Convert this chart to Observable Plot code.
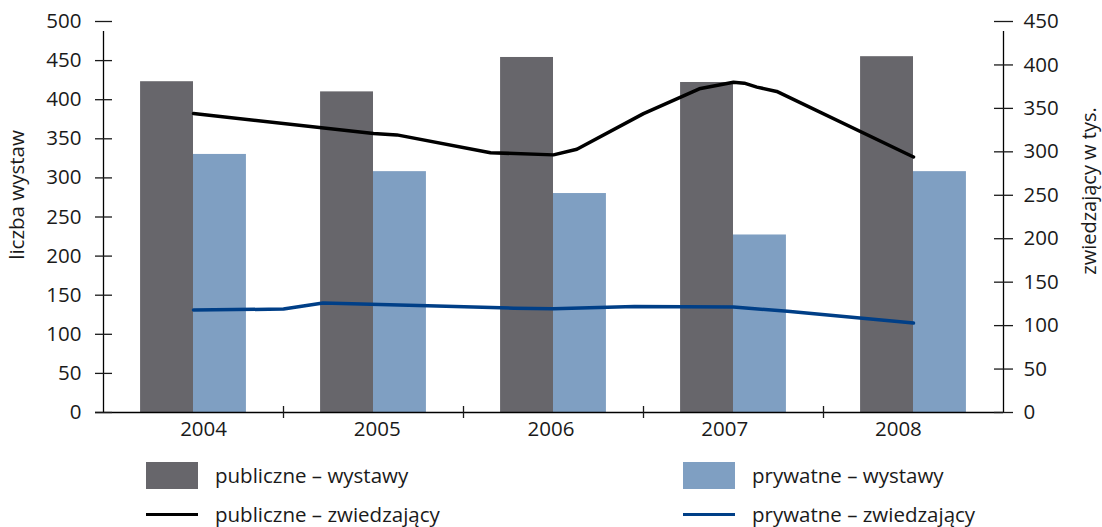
<!DOCTYPE html>
<html>
<head>
<meta charset="utf-8">
<script src="https://cdn.jsdelivr.net/npm/d3@7"></script>
<script src="https://cdn.jsdelivr.net/npm/@observablehq/plot@0.6"></script>
<style>
  body { margin: 0; background: #fff; font-family: "Open Sans", sans-serif; }
  #wrap { position: relative; width: 1102px; height: 527px; overflow: hidden; }
  #chart { position: absolute; left: 0; top: 0; }
  .leg { position: absolute; display: flex; align-items: center; font-size: 20.5px; color: #1a1a1a; white-space: nowrap; line-height: 1; }
  .sw { width: 52px; margin-right: 17px; flex: none; }
</style>
</head>
<body>
<div id="wrap">
  <div id="chart"></div>
  <div class="leg" style="left:146px; top:462px; height:27px;"><div class="sw" style="height:27px;background:#67666b"></div>publiczne – wystawy</div>
  <div class="leg" style="left:683px; top:462px; height:27px;"><div class="sw" style="height:27px;background:#7f9fc2"></div>prywatne – wystawy</div>
  <div class="leg" style="left:146px; top:501px; height:27px;"><div class="sw" style="height:3.5px;background:#000"></div>publiczne – zwiedzający</div>
  <div class="leg" style="left:683px; top:501px; height:27px;"><div class="sw" style="height:3.5px;background:#003f87"></div>prywatne – zwiedzający</div>
</div>
<script>
const years = [2004, 2005, 2006, 2007, 2008];
const publiczneWystawy = [423, 410, 454, 422, 455];
const prywatneWystawy = [330, 308, 280, 227, 308];

// visitor lines (thousands, right axis), vertices
const publiczneZwX = [2004, 2005, 2005.13, 2005.65, 2006, 2006.13, 2006.5, 2006.81, 2007, 2007.06, 2007.13, 2007.24, 2008];
const publiczneZw  = [344, 321, 319.5, 299, 296.5, 303, 344, 372.5, 380, 379, 374.5, 369.5, 294];
const prywatneZwX = [2004, 2004.5, 2004.72, 2005.3, 2005.78, 2006, 2006.45, 2007, 2007.3, 2008];
const prywatneZw  = [118, 119, 126, 123, 120, 119.5, 122, 121.5, 116.5, 103];

const leftTicks = [0, 50, 100, 150, 200, 250, 300, 350, 400, 450, 500];
const rightTicks = [0, 50, 100, 150, 200, 250, 300, 350, 400, 450];
const boundaries = [2004.5, 2005.5, 2006.5, 2007.5];

const k = 500 / 450; // right-axis units -> left-axis units
const barW = 0.294;

const pubBars = years.map((y, i) => ({year: y, v: publiczneWystawy[i]}));
const privBars = years.map((y, i) => ({year: y, v: prywatneWystawy[i]}));
const pubLine = publiczneZwX.map((x, i) => ({x, v: publiczneZw[i]}));
const privLine = prywatneZwX.map((x, i) => ({x, v: prywatneZw[i]}));

const font = "Open Sans, sans-serif";
const fs = 20.5;
const plot = Plot.plot({
  width: 1102,
  height: 452,
  marginLeft: 103,
  marginRight: 99,
  marginTop: 21,
  marginBottom: 40,
  style: {fontFamily: font, fontSize: fs + "px", color: "#1a1a1a", background: "white"},
  x: {domain: [2003.5, 2008.5], axis: null},
  y: {domain: [0, 500], axis: null},
  marks: [
    Plot.rect(pubBars, {x1: d => d.year - barW, x2: d => d.year, y1: 0, y2: d => d.v, fill: "#67666b"}),
    Plot.rect(privBars, {x1: d => d.year, x2: d => d.year + barW, y1: 0, y2: d => d.v, fill: "#7f9fc2"}),
    Plot.line(pubLine, {x: "x", y: d => d.v * k, stroke: "#000", strokeWidth: 3.5}),
    Plot.line(privLine, {x: "x", y: d => d.v * k, stroke: "#003f87", strokeWidth: 3.5}),
    // axis lines
    Plot.ruleX([2003.5], {y1: 0, y2: 500, insetBottom: -10, stroke: "#000", strokeWidth: 1.3}),
    Plot.ruleX([2008.5], {y1: 0, y2: 500, insetBottom: -10, stroke: "#000", strokeWidth: 1.3}),
    Plot.ruleY([0], {x1: 2003.5, x2: 2008.5, insetLeft: -8, stroke: "#000", strokeWidth: 1.3}),
    // left axis ticks + labels
    Plot.axisY(leftTicks, {anchor: "left", tickSize: 17, dx: 9, tickFormat: () => "", label: null, strokeWidth: 1.3}),
    Plot.axisY(leftTicks, {anchor: "left", tickSize: 0, tickPadding: 22, label: null, fontSize: fs}),
    // right axis ticks + labels (values in thousands)
    Plot.axisY(rightTicks.map(t => t * k), {anchor: "right", tickSize: 19, dx: -10, tickFormat: () => "", label: null, strokeWidth: 1.3}),
    Plot.axisY(rightTicks.map(t => t * k), {anchor: "right", tickSize: 0, tickPadding: 20, tickFormat: d => String(Math.round(d / k)), label: null, fontSize: fs}),
    // bottom ticks at category boundaries
    Plot.axisX(boundaries, {anchor: "bottom", tickSize: 12, dy: -6, tickFormat: () => "", label: null, strokeWidth: 1.3}),
    // category labels
    Plot.text(years, {x: d => 2004.056 + (d - 2004) * 0.965, frameAnchor: "bottom", dy: 23, text: d => String(d), fontSize: fs}),
    // axis titles
    Plot.text(["liczba wystaw"], {frameAnchor: "left", textAnchor: "middle", dx: -86, dy: -22, rotate: -90, fontSize: fs}),
    Plot.text(["zwiedzający w tys."], {frameAnchor: "right", textAnchor: "middle", dx: 86, dy: -26, rotate: -90, fontSize: 20})
  ]
});
document.getElementById("chart").appendChild(plot);
</script>
</body>
</html>
